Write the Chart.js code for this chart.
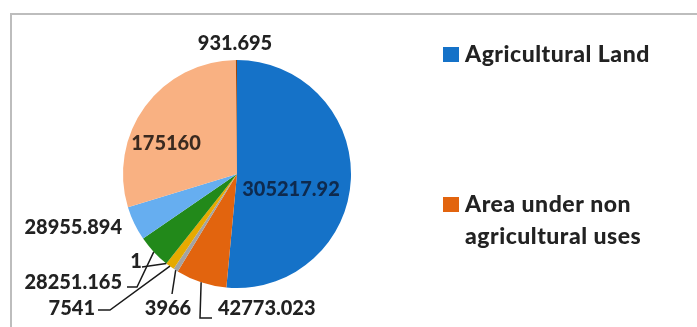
<!DOCTYPE html>
<html>
<head>
<meta charset="utf-8">
<script src="https://cdn.jsdelivr.net/npm/chart.js@4"></script>
<style>
html,body{margin:0;padding:0;background:#fff;}
#wrap{position:relative;width:697px;height:327px;}
canvas{display:block;}
</style>
</head>
<body>
<div id="wrap"><canvas id="c" width="697" height="327"></canvas></div>
<script>
// ---- data ----
const categories = [
  "Agricultural Land",
  "Area under non agricultural uses",
  "Category 3",
  "Category 4",
  "Category 5",
  "Category 6",
  "Category 7",
  "Category 8",
  "Category 9"
];
const values = [305217.92, 42773.023, 3966, 7541, 1, 28251.165, 28955.894, 175160, 931.695];
const valueLabels = ["305217.92", "42773.023", "3966", "7541", "1", "28251.165", "28955.894", "175160", "931.695"];
const sliceColors = ["#1572C8", "#E2640E", "#A3A3A3", "#E6AA00", "#2F5597", "#22891A", "#66AEF0", "#F9B182", "#9E480E"];
const legendItems = [0, 1];
const legendLines = [["Agricultural Land"], ["Area under non", "agricultural uses"]];

// ---- label layout (offsets from pie centre, px) ----
const labelLayout = [
  {dx: 54,   dy: 16,   align: "center", color: "#0E2A4E"},
  {dx: -19,  dy: 135,  align: "left",   leader: [[-37,144],[-25,144]]},
  {dx: -69,  dy: 135,  align: "center", leader: [[-65,120]]},
  {dx: -142, dy: 135,  align: "right",  leader: [[-127,136],[-139,136]]},
  {dx: -101, dy: 88,   align: "center", leader: [[-95,93]]},
  {dx: -115, dy: 109,  align: "right",  leader: [[-100,113],[-110,113]]},
  {dx: -115, dy: 54,   align: "right"},
  {dx: -71,  dy: -30,  align: "center", color: "#3A2A20"},
  {dx: -2,   dy: -130, align: "center"}
];

const FONT = "900 20px Lato";
const LEGEND_FONT = "900 23px Lato";
const TEXT = "#222222";

const framePlugin = {
  id: "frame",
  beforeDraw(chart) {
    const ctx = chart.ctx;
    ctx.save();
    ctx.fillStyle = "#ffffff";
    ctx.fillRect(0, 0, chart.width, chart.height);
    ctx.strokeStyle = "#BDBDBD";
    ctx.lineWidth = 2;
    ctx.beginPath();
    ctx.moveTo(11, 330);
    ctx.lineTo(11, 14);
    ctx.lineTo(700, 14);
    ctx.stroke();
    ctx.restore();
  }
};

const labelPlugin = {
  id: "sliceLabels",
  afterDatasetsDraw(chart) {
    const ctx = chart.ctx;
    const meta = chart.getDatasetMeta(0);
    ctx.save();
    ctx.font = FONT;
    ctx.textBaseline = "middle";
    meta.data.forEach((arc, i) => {
      const p = arc.getProps(["x", "y", "startAngle", "endAngle", "outerRadius"], true);
      const L = labelLayout[i];
      const cx = p.x, cy = p.y;
      if (L.leader) {
        const mid = (p.startAngle + p.endAngle) / 2;
        const ex = cx + Math.cos(mid) * p.outerRadius;
        const ey = cy + Math.sin(mid) * p.outerRadius;
        ctx.strokeStyle = "#1a1a1a";
        ctx.lineWidth = 1.5;
        ctx.beginPath();
        ctx.moveTo(ex, ey);
        L.leader.forEach(pt => ctx.lineTo(cx + pt[0], cy + pt[1]));
        ctx.stroke();
      }
      ctx.fillStyle = L.color || TEXT;
      ctx.textAlign = L.align;
      ctx.fillText(valueLabels[i], cx + L.dx, cy + L.dy);
    });
    ctx.restore();
  }
};

const legendPlugin = {
  id: "sideLegend",
  afterDraw(chart) {
    const ctx = chart.ctx;
    ctx.save();
    ctx.font = LEGEND_FONT;
    if ("letterSpacing" in ctx) ctx.letterSpacing = "0.5px";
    ctx.textBaseline = "middle";
    ctx.textAlign = "left";
    const rowsY = [55, 205];
    legendItems.forEach((idx, k) => {
      const y = rowsY[k];
      ctx.fillStyle = sliceColors[idx];
      ctx.fillRect(443, y - 8, 16, 15);
      ctx.fillStyle = TEXT;
      legendLines[k].forEach((line, j) => ctx.fillText(line, 465, y + j * 32));
    });
    ctx.restore();
  }
};

new Chart(document.getElementById("c"), {
  type: "pie",
  data: {
    labels: categories,
    datasets: [{
      data: values,
      backgroundColor: sliceColors,
      borderWidth: 0
    }]
  },
  options: {
    responsive: false,
    animation: false,
    layout: { padding: { left: 123, right: 346, top: 60, bottom: 39 } },
    plugins: {
      legend: { display: false },
      tooltip: { enabled: false }
    }
  },
  plugins: [framePlugin, labelPlugin, legendPlugin]
});
</script>
</body>
</html>
